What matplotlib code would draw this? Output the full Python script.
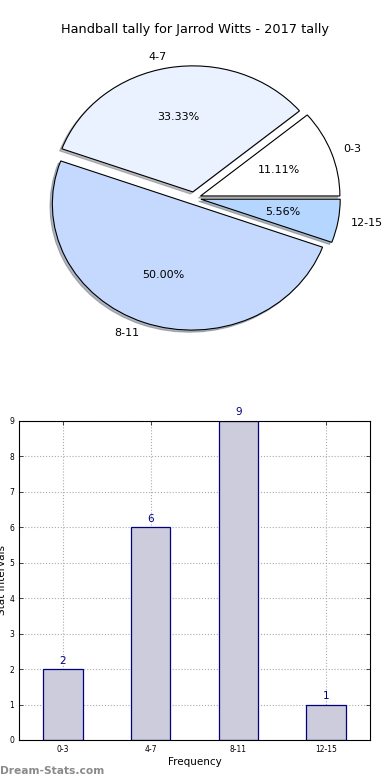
import matplotlib
matplotlib.use("Agg")
import matplotlib.pyplot as plt

categories = ["0-3", "4-7", "8-11", "12-15"]
counts = [2, 6, 9, 1]
pie_colors = ["#ffffff", "#eaf1ff", "#c5d9ff", "#b5d7ff"]
title = "Handball tally for Jarrod Witts - 2017 tally"

fig = plt.figure(figsize=(3.9, 7.8), dpi=100)

# Pie
axp = fig.add_axes([0.051, 0.544, 0.893, 0.404])
wedges, texts, autotexts = axp.pie(
    counts, labels=categories, colors=pie_colors, autopct="%.2f%%",
    explode=[0.05] * len(counts),
    shadow=dict(ox=-0.012, oy=-0.012, shade=0.5), startangle=0,
    wedgeprops=dict(edgecolor="black", linewidth=0.8),
    textprops=dict(fontsize=8), pctdistance=0.6, labeldistance=1.09)
axp.set_aspect("auto")
axp.set_xlim(-1.25, 1.25)
axp.set_ylim(-1.25, 1.25)
fig.text(0.5, 0.962, title, ha="center", va="center", fontsize=9.3)

# Bars
axb = fig.add_axes([0.049, 0.0513, 0.9, 0.4090])
x = list(range(len(categories)))
bars = axb.bar(x, counts, width=0.45, color="#ccccdd", edgecolor="navy",
               linewidth=0.9, zorder=2)
for xi, v in zip(x, counts):
    axb.text(xi, v + 0.1, str(v), ha="center", va="bottom", color="navy", fontsize=7.5)
axb.set_xlim(-0.5, 3.5)
axb.set_ylim(0, 9)
axb.set_xticks(x)
axb.set_xticklabels(categories, fontsize=5.5)
axb.set_yticks(range(10))
axb.tick_params(axis="y", labelsize=5.5)
axb.tick_params(direction="in", top=True, right=True, length=3, width=0.5)
axb.grid(True, linestyle=":", color="#aaaaaa", linewidth=0.8, zorder=0)
axb.set_axisbelow(True)
axb.set_xlabel("Frequency", fontsize=7.5, labelpad=2)
axb.set_ylabel("Stat Intervals", fontsize=7.5, labelpad=2)

fig.text(0.0, 0.012, "Dream-Stats.com", fontsize=7.7, color="#8a8a8a",
         fontweight="bold", ha="left", va="center")

fig.savefig("out.png", dpi=100)
